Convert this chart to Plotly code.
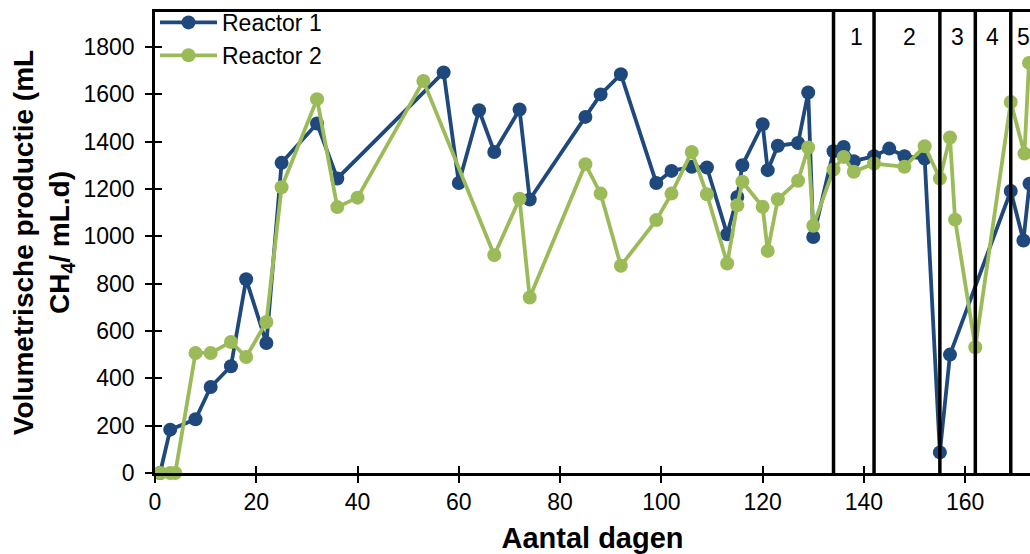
import plotly.graph_objects as go

# Reactor 1: day, volumetric methane production (mL CH4 / mL.d)
r1_days = [1, 3, 8, 11, 15, 18, 22, 25, 32, 36, 57, 60, 64, 67, 72, 74, 85, 88, 92,
           99, 102, 106, 109, 113, 115, 116, 120, 121, 123, 127, 129, 130, 134, 136,
           138, 142, 145, 148, 152, 155, 157, 169, 171.5, 172.7]
r1_prod = [0, 183, 227, 363, 451, 818, 549, 1310, 1476, 1244, 1692, 1225, 1532, 1356,
           1535, 1155, 1504, 1599, 1684, 1225, 1276, 1293, 1290, 1008, 1166, 1300, 1473,
           1279, 1382, 1394, 1607, 997, 1359, 1377, 1317, 1338, 1370, 1338, 1328, 87,
           500, 1191, 982, 1222]

# Reactor 2
r2_days = [1, 3, 4, 8, 11, 15, 18, 22, 25, 32, 36, 40, 53, 67, 72, 74, 85, 88, 92,
           99, 102, 106, 109, 113, 115, 116, 120, 121, 123, 127, 129, 130, 134, 136,
           138, 142, 148, 152, 155, 157, 158, 162, 169, 171.7, 172.6]
r2_prod = [0, 0, 0, 507, 507, 553, 490, 638, 1207, 1579, 1123, 1163, 1656, 920, 1158,
           741, 1304, 1180, 875, 1068, 1180, 1356, 1177, 885, 1131, 1230, 1124, 938,
           1156, 1234, 1375, 1044, 1282, 1335, 1272, 1307, 1293, 1380, 1244, 1417, 1070,
           531, 1567, 1349, 1732]

# Phase boundaries (days) and phase labels
phase_bounds = [134, 142, 155, 162, 169]
phase_labels = ["1", "2", "3", "4", "5"]
phase_label_x = [138.5, 149, 158.5, 165.3, 171.5]
phase_label_y = 1840

y_ticks = list(range(0, 2000, 200))
x_ticks = list(range(0, 180, 20))

BLUE = "#1F497D"
GREEN = "#9BBB59"
FONT = "Liberation Sans, Arial, sans-serif"

X_RANGE = [0, 172.8]
Y_RANGE = [0, 1947]

fig = go.Figure()
fig.add_trace(go.Scatter(
    x=r1_days, y=r1_prod, name="Reactor 1", mode="lines+markers",
    line=dict(color=BLUE, width=3.8), marker=dict(color=BLUE, size=14),
    cliponaxis=False,
))
fig.add_trace(go.Scatter(
    x=r2_days, y=r2_prod, name="Reactor 2", mode="lines+markers",
    line=dict(color=GREEN, width=3.8), marker=dict(color=GREEN, size=14),
    cliponaxis=False,
))
# empty trace carrying the overlay axes used for the inner half of the cross ticks
fig.add_trace(go.Scatter(x=[None], y=[None], xaxis="x2", yaxis="y2",
                         showlegend=False, hoverinfo="skip"))

for xb in phase_bounds:
    fig.add_vline(x=xb, line=dict(color="black", width=3.5), layer="above")

for lx, lab in zip(phase_label_x, phase_labels):
    fig.add_annotation(x=lx, y=phase_label_y, text=lab, showarrow=False,
                       font=dict(family=FONT, size=23, color="black"))

fig.update_layout(
    width=1030, height=554,
    margin=dict(l=155, r=0, t=12, b=81),
    paper_bgcolor="white", plot_bgcolor="white",
    font=dict(family=FONT, size=23, color="black"),
    showlegend=True,
    legend=dict(x=0.0, y=1.024, xanchor="left", yanchor="top",
                bgcolor="rgba(0,0,0,0)", font=dict(size=23),
                tracegroupgap=0, itemwidth=57),
    xaxis=dict(
        range=X_RANGE, tickvals=x_ticks, ticks="outside", ticklen=7, tickwidth=2,
        tickcolor="black", showline=True, linecolor="black", linewidth=2.5,
        mirror=True, showgrid=False, zeroline=False,
        title=dict(text="<b>Aantal dagen</b>", font=dict(size=29), standoff=16),
    ),
    yaxis=dict(
        range=Y_RANGE, tickvals=y_ticks, ticks="outside", ticklen=7, tickwidth=2,
        tickcolor="black", showline=True, linecolor="black", linewidth=2.5,
        showgrid=False, zeroline=False, ticklabelstandoff=6,
        title=dict(text="<b>Volumetrische productie (mL<br>CH<sub>4</sub>/ mL.d)</b>",
                   font=dict(size=28), standoff=6),
    ),
    xaxis2=dict(range=X_RANGE, overlaying="x", anchor="y", ticks="inside",
                tickvals=x_ticks, ticklen=7, tickwidth=2, tickcolor="black",
                showticklabels=False, showline=False, showgrid=False, zeroline=False),
    yaxis2=dict(range=Y_RANGE, overlaying="y", anchor="x", ticks="inside",
                tickvals=y_ticks, ticklen=7, tickwidth=2, tickcolor="black",
                showticklabels=False, showline=False, showgrid=False, zeroline=False),
)

fig.write_html("out.html")
